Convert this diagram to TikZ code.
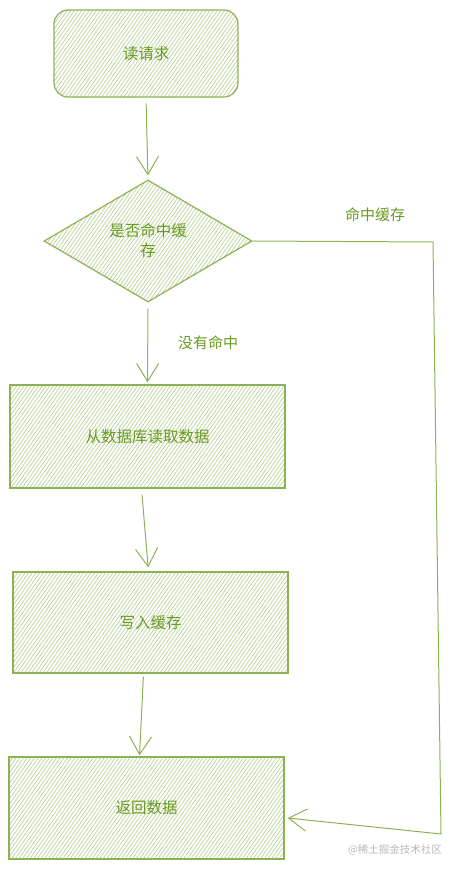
\documentclass[tikz,border=0pt]{standalone}
\usepackage{fontspec}
\newfontfamily\cjk{Noto Sans CJK SC}
\usetikzlibrary{shapes.geometric,arrows.meta,patterns.meta}
\definecolor{stroke}{HTML}{8DB255}
\definecolor{txt}{HTML}{6A9A22}
\definecolor{hatch}{HTML}{B9D198}
\definecolor{wm}{HTML}{B8B8B8}
\tikzset{
  box/.style={draw=stroke, line width=1.2pt, pattern={Lines[angle=55,distance=3pt,line width=0.7pt]}, pattern color=hatch,
    font=\cjk\fontsize{15.5}{20}\selectfont, text=txt, inner sep=0pt},
  rbox/.style={box, rounded corners=14pt},
  dbox/.style={box, shape=diamond, aspect=1.7, align=center},
  arr/.style={draw=stroke, line width=1pt, -{Straight Barb[length=18pt,width=22pt,line width=1pt]}},
  lbl/.style={font=\cjk\fontsize{15}{18}\selectfont, text=txt, inner sep=0pt},
}
\begin{document}
\begin{tikzpicture}[x=1pt,y=-1pt]
\useasboundingbox (0,0) rectangle (452,870);
\node[rbox, minimum width=184pt, minimum height=87pt] (req) at (146,53.5) {读请求};
\node[dbox, minimum width=208pt, minimum height=122pt] (dia) at (148,241) {是否命中缓\\存};
\node[box, minimum width=275pt, minimum height=103pt] (db) at (147.5,436.5) {从数据库读取数据};
\node[box, minimum width=275pt, minimum height=101pt] (wr) at (150.5,622.5) {写入缓存};
\node[box, minimum width=275pt, minimum height=102pt] (ret) at (146.5,808) {返回数据};
\node[lbl] (hit) at (375,215) {命中缓存};
\node[lbl] (miss) at (208,343) {没有命中};
\node[font=\cjk\fontsize{10.5}{12}\selectfont, text=wm, inner sep=0pt] (wmk) at (395,850) {@稀土掘金技术社区};
\coordinate (c1) at (433,242);
\coordinate (c2) at (441,834);
\draw[arr, shorten <=6pt, shorten >=4pt] (req.south) -- (dia.north);
\draw[arr, shorten <=6pt, shorten >=2pt] (dia.south) -- (db.north);
\draw[arr, shorten <=6pt, shorten >=4pt] ([xshift=-6pt]db.south) -- ([xshift=-2pt]wr.north);
\draw[arr, shorten <=3pt, shorten >=1pt] ([xshift=-7pt]wr.south) -- ([xshift=-7pt]ret.north);
\draw[arr] (dia.east) -- (c1) -- (c2) -- ([xshift=3pt,yshift=-10pt]ret.east);
\end{tikzpicture}
\end{document}
